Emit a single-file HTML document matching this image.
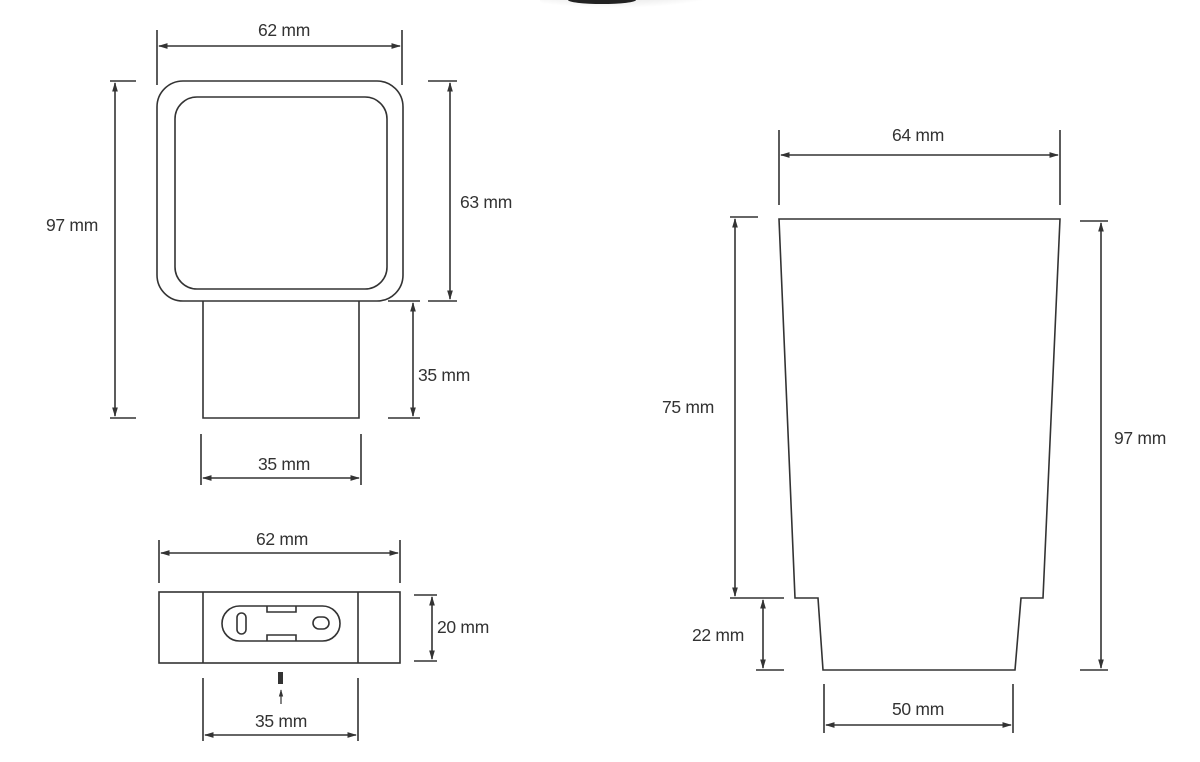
<!DOCTYPE html>
<html><head><style>
html,body{margin:0;padding:0;background:#fff;}
svg text{font-family:"Liberation Sans",sans-serif;font-size:17.5px;fill:#333;letter-spacing:-0.3px;}
</style></head><body>
<svg width="1200" height="757" viewBox="0 0 1200 757" xmlns="http://www.w3.org/2000/svg">
<defs>
<marker id="a" viewBox="0 0 10 10" refX="9" refY="5" markerWidth="6" markerHeight="6" orient="auto-start-reverse"><path d="M0,2 L10,5 L0,8 z" fill="#333"/></marker>
<radialGradient id="g" cx="0.45" cy="0" r="0.75"><stop offset="0" stop-color="#cfcfcf"/><stop offset="0.7" stop-color="#eee"/><stop offset="1" stop-color="#fff"/></radialGradient>
</defs>
<ellipse cx="622" cy="0" rx="82" ry="16" fill="url(#g)"/>
<ellipse cx="602" cy="0" rx="34" ry="4" fill="#222"/>
<g fill="none" stroke="#333" stroke-width="1.6">
<rect x="157" y="81" width="246" height="220" rx="26"/>
<rect x="175" y="97" width="212" height="192" rx="22"/>
<path d="M203 301 V418 H359 V301"/>
<path d="M157 30 V85 M402 30 V85"/>
<path d="M159 46 H400" marker-start="url(#a)" marker-end="url(#a)"/>
<path d="M110 81 H136 M110 418 H136"/>
<path d="M115 83 V416" marker-start="url(#a)" marker-end="url(#a)"/>
<path d="M428 81 H457 M428 301 H457"/>
<path d="M450 83 V299" marker-start="url(#a)" marker-end="url(#a)"/>
<path d="M388 301 H420 M388 418 H420"/>
<path d="M413 303 V416" marker-start="url(#a)" marker-end="url(#a)"/>
<path d="M201 434 V485 M361 434 V485"/>
<path d="M203 478 H359" marker-start="url(#a)" marker-end="url(#a)"/>
<rect x="159" y="592" width="241" height="71"/>
<path d="M203 592 V663 M358 592 V663"/>
<rect x="222" y="606" width="118" height="35" rx="17.5"/>
<rect x="237" y="613" width="9" height="21" rx="4.5"/>
<rect x="313" y="617" width="16" height="12" rx="6"/>
<path d="M267 606 V612 H296 V606 M267 641 V635 H296 V641"/>
<path d="M159 540 V583 M400 540 V583"/>
<path d="M161 553 H398" marker-start="url(#a)" marker-end="url(#a)"/>
<path d="M414 595 H437 M414 661 H437"/>
<path d="M432 597 V659" marker-start="url(#a)" marker-end="url(#a)"/>
<path d="M203 678 V741 M358 678 V741"/>
<path d="M205 735 H356" marker-start="url(#a)" marker-end="url(#a)"/>
<path d="M281 704 V690" stroke-width="1.2" marker-end="url(#a)"/>
<path d="M779 219 H1060 L1043 598 H1021 L1015 670 H823 L818 598 H795 Z"/>
<path d="M779 130 V205 M1060 130 V205"/>
<path d="M781 155 H1058" marker-start="url(#a)" marker-end="url(#a)"/>
<path d="M1080 221 H1108 M1080 670 H1108"/>
<path d="M1101 223 V668" marker-start="url(#a)" marker-end="url(#a)"/>
<path d="M730 217 H758 M730 598 H784"/>
<path d="M735 219 V596" marker-start="url(#a)" marker-end="url(#a)"/>
<path d="M756 670 H784"/>
<path d="M763 600 V668" marker-start="url(#a)" marker-end="url(#a)"/>
<path d="M824 684 V733 M1013 684 V733"/>
<path d="M826 725 H1011" marker-start="url(#a)" marker-end="url(#a)"/>
</g>
<rect x="278" y="672" width="5" height="12" fill="#333"/>
<g>
<text x="284" y="36" text-anchor="middle">62 mm</text>
<text x="46" y="231">97 mm</text>
<text x="460" y="208">63 mm</text>
<text x="418" y="381">35 mm</text>
<text x="284" y="470" text-anchor="middle">35 mm</text>
<text x="282" y="545" text-anchor="middle">62 mm</text>
<text x="437" y="633">20 mm</text>
<text x="281" y="727" text-anchor="middle">35 mm</text>
<text x="918" y="141" text-anchor="middle">64 mm</text>
<text x="1114" y="444">97 mm</text>
<text x="662" y="413">75 mm</text>
<text x="692" y="641">22 mm</text>
<text x="918" y="715" text-anchor="middle">50 mm</text>
</g>
</svg>
</body></html>
